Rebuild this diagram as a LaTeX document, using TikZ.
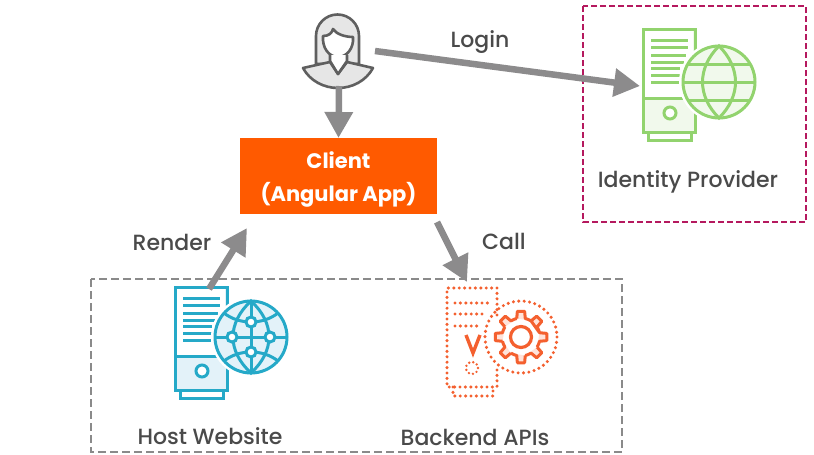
\documentclass[tikz,border=0pt]{standalone}
\usepackage{fontspec}
\setmainfont{Poppins}
\newfontfamily\lblfont{Poppins Medium}
\usetikzlibrary{arrows.meta,positioning}
\definecolor{txt}{HTML}{4A4A4A}
\definecolor{arrowgrey}{HTML}{8C8B8C}
\definecolor{usr}{HTML}{5F5F5F}
\definecolor{usrfill}{HTML}{E6E6E6}
\definecolor{clientor}{HTML}{FF5A00}
\definecolor{grn}{HTML}{92D36E}
\definecolor{grnf}{HTML}{F1F9EC}
\definecolor{blu}{HTML}{25A9C8}
\definecolor{bluf}{HTML}{E3F2F9}
\definecolor{org}{HTML}{F4602F}
\definecolor{orgf}{HTML}{FFE3DA}
\definecolor{mag}{HTML}{B5195E}
\definecolor{dashgrey}{HTML}{8A8A8A}
\tikzset{
  x=1pt,y=-1pt,
  flow/.style={line width=6.5pt,draw=arrowgrey,-{Triangle[length=26pt,width=27pt]},shorten >=0pt},
  lbl/.style={font=\lblfont\fontsize{22}{26}\selectfont,text=txt,inner sep=0pt},
  iconbox/.style={inner sep=0pt,outer sep=0pt,anchor=north west},
  icon/.style={line width=3pt,line join=miter},
  dots/.style={line width=3.4pt,line cap=round,dash pattern=on 0pt off 5.4pt},
}
\newcommand{\srvsolid}[3]{%
  \begin{scope}[shift={(#1,#2)}]
    \draw[icon,draw=#3,fill=#3f] (0,0) rectangle (52,103);
    \draw[icon,draw=#3,fill=white] (5,103) rectangle (48,111);
    \fill[white] (2,2) rectangle (50,68);
    \draw[icon,draw=#3] (0,69) -- (52,69);
    \draw[icon,draw=#3,fill=white] (27,84) circle (6);
    \foreach \yy/\xx in {11/45,18/45,26/43,33/41,39/37,46/37,53/36}
      \draw[icon,draw=#3] (8,\yy) -- (\xx,\yy);
  \end{scope}}
\begin{document}
\begin{tikzpicture}
\useasboundingbox (0,0) rectangle (814,455);
\fill[white] (0,0) rectangle (814,455);
% group frames
\draw[mag,line width=2pt,dash pattern=on 6pt off 3pt] (583,6) rectangle (806,222);
\draw[dashgrey,line width=2pt,dash pattern=on 8pt off 4pt] (91,279) rectangle (622,452);
% invisible icon nodes
\node[iconbox,minimum width=72pt,minimum height=74pt] (person) at (303,14) {};
\node[iconbox,minimum width=117pt,minimum height=114pt] (idp) at (640,29) {};
\node[iconbox,minimum width=114pt,minimum height=111pt] (host) at (175,287) {};
\node[iconbox,minimum width=110pt,minimum height=108pt] (backend) at (447,288) {};
\node[anchor=north west,fill=clientor,minimum width=197pt,minimum height=76pt,inner sep=0pt,outer sep=0pt,
      align=center,text=white,font=\fontsize{21}{33}\selectfont\bfseries] (client) at (240,138) {\raisebox{-3.5pt}[\height][\depth]{Client}\\\raisebox{-3.5pt}[\height][\depth]{(Angular App)}};
% person
\draw[usr,fill=usrfill,line width=2.6pt,line join=round] (316,64) -- (316,36) arc[start angle=180,end angle=360,radius=21.5] -- (359,64) -- cycle;
\draw[usr,fill=white,line width=2.6pt,line join=round] (323,36) .. controls (329,36) and (332,33) .. (333,29)
  .. controls (336,34) and (345,37) .. (353,37)
  .. controls (354,48) and (347,57) .. (338,57)
  .. controls (329,57) and (322,48) .. (323,36) -- cycle;
\draw[usr,fill=usrfill,line width=2.6pt,line join=round] (303,68) -- (330,62) -- (338,74) -- (347,62) -- (373,68)
  .. controls (366,81) and (352,88) .. (338,88)
  .. controls (324,88) and (310,81) .. (303,68) -- cycle;
\draw[usr,fill=white,line width=2.6pt,line join=round] (330,55) -- (330,61) -- (338,74) -- (347,61) -- (347,55);
% green icon
\srvsolid{643}{29}{grn}
\begin{scope}[shift={(719,82)}]
  \fill[white] (0,0) circle (40);
  \draw[icon,draw=grn,fill=grnf] (0,0) circle (36);
  \draw[icon,draw=grn] (0,-36) .. controls (-22,-14) and (-22,14) .. (0,36) .. controls (22,14) and (22,-14) .. (0,-36) -- cycle;
  \draw[icon,draw=grn] (-31,-18) -- (31,-18) (-36,0) -- (36,0) (-31,18) -- (31,18);
\end{scope}
% blue icon
\srvsolid{175}{287}{blu}
\begin{scope}[shift={(251,337)}]
  \fill[white] (0,0) circle (40);
  \draw[icon,draw=blu,fill=bluf] (0,0) circle (36);
  \draw[icon,draw=blu] (0,-36) .. controls (-24,-14) and (-24,14) .. (0,36) .. controls (24,14) and (24,-14) .. (0,-36) -- cycle;
  \draw[icon,draw=blu] (0,-36) -- (0,36) (-36,0) -- (36,0);
  \draw[icon,draw=blu] (-27,-24) .. controls (-12,-12) and (12,-12) .. (27,-24);
  \draw[icon,draw=blu] (-27,24) .. controls (-12,12) and (12,12) .. (27,24);
  \foreach \p in {(0,-15),(0,15),(-19,0),(19,0)}
    \draw[line width=3pt,draw=blu,fill=white] \p circle (5);
\end{scope}
% orange icon
\begin{scope}[shift={(447,288)}]
  \fill[white] (0,0) rectangle (50,99);
  \draw[dots,draw=org] (50,27) -- (50,0) -- (0,0) -- (0,99) -- (50,99) -- (50,78);
  \draw[dots,draw=org] (6,99) -- (6,108) -- (46,108) -- (46,99);
  \draw[dots,draw=org] (8,15) -- (43,15) (8,26) -- (37,26) (8,38) -- (33,38);
  \draw[line width=3.4pt,draw=org,line join=miter] (19,47) -- (26,65) -- (33,47);
  \draw[org,line width=2.6pt,line cap=round,dash pattern=on 0pt off 4.2pt] (25,80) circle (6);
\end{scope}
\begin{scope}[shift={(521,337)}]
  \draw[dots,draw=org] (0,0) circle (36);
  \draw[line width=3pt,draw=org,fill=orgf,line join=round]
    \foreach \a in {0,45,...,315} {
      (\a-13:19) -- (\a-8:26) -- (\a+8:26) -- (\a+13:19)
      arc[start angle=\a+13,end angle=\a+32,radius=19]
    } -- cycle;
  \draw[line width=3.2pt,draw=org,fill=white] (0,0) circle (10.5);
\end{scope}
% connectors
\draw[flow] ([yshift=2pt]person.south) -- (client.north);
\draw[flow] (person.east) -- (idp.west);
\draw[flow] ([xshift=34pt,yshift=-2pt]host.north west) -- ([xshift=7pt,yshift=-14pt]client.south west);
\draw[flow] ([yshift=-8pt]client.south east) -- ([xshift=20pt,yshift=6pt]backend.north west);
% labels
\node[lbl] (lLogin) at (480,42.5) {Login};
\node[lbl] (lRender) at (172,242) {Render};
\node[lbl] (lCall) at (504,241.5) {Call};
\node[lbl] (lIdp) at (688,182) {Identity Provider};
\node[lbl] (lHost) at (210,436) {Host Website};
\node[lbl] (lBack) at (475,437) {Backend APIs};
\end{tikzpicture}
\end{document}
